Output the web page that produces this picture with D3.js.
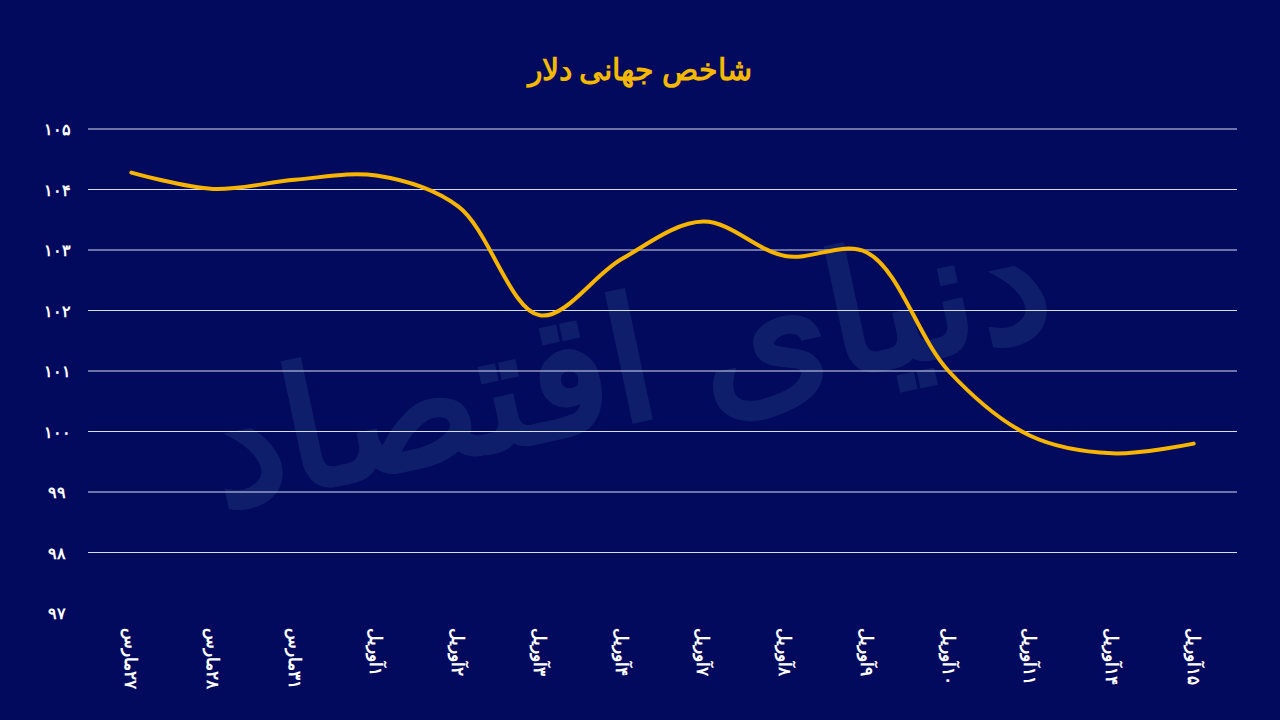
<!DOCTYPE html>
<html><head><meta charset="utf-8">
<script src="https://cdn.jsdelivr.net/npm/d3@7"></script>
<style>body{margin:0;padding:0;background:#020a5e;}</style>
</head><body>
<script>
var dates = ["۲۷مارس","۲۸مارس","۳۱مارس","۱آوریل","۲آوریل","۳آوریل","۴آوریل","۷آوریل","۸آوریل","۹آوریل","۱۰آوریل","۱۱آوریل","۱۴آوریل","۱۵آوریل"];
var values = [104.28,104.01,104.16,104.23,103.72,101.92,102.85,103.47,102.9,102.96,101.0,99.93,99.64,99.8];
var yTicks = [97,98,99,100,101,102,103,104,105];

function fa(n){ return String(n).replace(/\d/g, function(d){ return "۰۱۲۳۴۵۶۷۸۹"[d]; }); }

var W = 1280, H = 720;
var svg = d3.select("body").append("svg").attr("width", W).attr("height", H)
    .style("background", "#020a5e").style("display", "block");

var x = d3.scalePoint().domain(dates).range([88, 1237]).padding(0.53);
var y = d3.scaleLinear().domain([97, 105]).range([613, 129]);

// watermark
svg.append("text").attr("transform", "translate(640,420) rotate(-12)")
    .attr("text-anchor", "middle").attr("font-family", "Noto Sans").attr("font-weight", "bold")
    .attr("font-size", 170).attr("fill", "#12246f").attr("opacity", 0.8)
    .text("دنیای اقتصاد");

// grid
svg.append("g").selectAll("line").data(yTicks.filter(function(d){ return d > 97; })).join("line")
    .attr("x1", 88).attr("x2", 1237)
    .attr("y1", function(d){ return y(d); }).attr("y2", function(d){ return y(d); })
    .attr("stroke", "#d8dcf0").attr("stroke-width", 1);

svg.append("g").selectAll("text").data(yTicks).join("text")
    .attr("x", 57).attr("y", function(d){ return y(d) + 6; })
    .attr("text-anchor", "middle").attr("fill", "#fff")
    .attr("font-family", "Noto Sans").attr("font-weight", "bold").attr("font-size", 16)
    .text(function(d){ return fa(d); });

svg.append("g").selectAll("text").data(dates).join("text")
    .attr("transform", function(d){ return "translate(" + (x(d) - 6) + ",628) rotate(90)"; })
    .attr("direction", "rtl").attr("text-anchor", "end").attr("fill", "#fff")
    .attr("font-family", "Noto Sans").attr("font-weight", "bold").attr("font-size", 17)
    .text(function(d){ return d; });

var line = d3.line()
    .x(function(d, i){ return x(dates[i]); })
    .y(function(d){ return y(d); })
    .curve(d3.curveCatmullRom.alpha(0.5));

svg.append("path").datum(values).attr("d", line)
    .attr("fill", "none").attr("stroke", "#f7b500").attr("stroke-width", 4)
    .attr("stroke-linecap", "round");

// title
svg.append("text").attr("x", 640).attr("y", 80)
    .attr("text-anchor", "middle").attr("fill", "#f5b800")
    .attr("font-family", "Noto Sans").attr("font-weight", "bold").attr("font-size", 30)
    .text("شاخص جهانی دلار");
</script>
</body></html>
